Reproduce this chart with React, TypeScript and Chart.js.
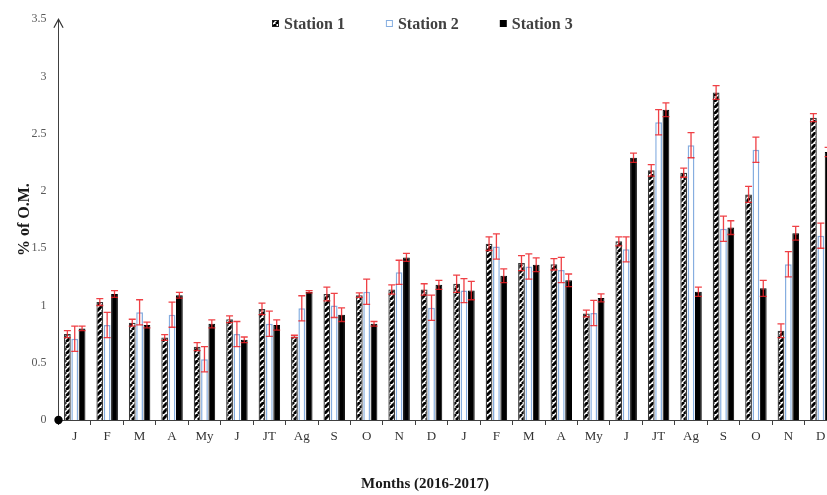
import React, { useEffect, useRef } from "react";
import { Chart, registerables } from "chart.js";

Chart.register(...registerables);

// ---------- data ----------
const months = ["J", "F", "M", "A", "My", "J", "JT", "Ag", "S", "O", "N", "D", "J", "F", "M", "A", "My", "J", "JT", "Ag", "S", "O", "N", "D"];
const seriesNames = ["Station 1", "Station 2", "Station 3"];

const station1 = [0.75, 1.03, 0.85, 0.72, 0.64, 0.88, 0.97, 0.73, 1.10, 1.09, 1.14, 1.14, 1.19, 1.54, 1.37, 1.36, 0.93, 1.56, 2.18, 2.16, 2.86, 1.97, 0.78, 2.64];
const station1Err = [0.03, 0.03, 0.03, 0.025, 0.035, 0.03, 0.05, 0.01, 0.06, 0.02, 0.04, 0.05, 0.075, 0.06, 0.065, 0.05, 0.03, 0.04, 0.05, 0.04, 0.06, 0.07, 0.06, 0.035];

const station2 = [0.71, 0.83, 0.94, 0.92, 0.53, 0.75, 0.84, 0.975, 1.00, 1.12, 1.29, 0.98, 1.13, 1.515, 1.34, 1.31, 0.935, 1.49, 2.60, 2.40, 1.67, 2.36, 1.36, 1.61];
const station2Err = [0.11, 0.11, 0.11, 0.11, 0.11, 0.11, 0.11, 0.11, 0.105, 0.11, 0.105, 0.11, 0.105, 0.11, 0.11, 0.11, 0.11, 0.11, 0.11, 0.11, 0.11, 0.11, 0.11, 0.11];

const station3 = [0.80, 1.10, 0.83, 1.09, 0.84, 0.70, 0.83, 1.12, 0.92, 0.84, 1.42, 1.18, 1.13, 1.26, 1.355, 1.22, 1.066, 2.29, 2.71, 1.12, 1.68, 1.15, 1.63, 2.34];
const station3Err = [0.02, 0.03, 0.025, 0.025, 0.035, 0.025, 0.045, 0.01, 0.06, 0.02, 0.035, 0.04, 0.08, 0.06, 0.06, 0.055, 0.035, 0.04, 0.06, 0.04, 0.06, 0.07, 0.06, 0.04];

const yTitle = "% of O.M.";
const xTitle = "Months (2016-2017)";
const yMin = 0;
const yMax = 3.5;
const yStep = 0.5;

const SERIF = "'Liberation Serif', 'Times New Roman', serif";

function makeHatch(): CanvasPattern | string {
  const c = document.createElement("canvas");
  const s = 6;
  c.width = s;
  c.height = s;
  const g = c.getContext("2d");
  if (!g) return "#888";
  g.fillStyle = "#ffffff";
  g.fillRect(0, 0, s, s);
  g.strokeStyle = "#000000";
  g.lineWidth = 2.9;
  for (let k = -1; k <= 1; k++) {
    g.beginPath();
    g.moveTo(k * s, s);
    g.lineTo(k * s + s, 0);
    g.stroke();
  }
  const p = g.createPattern(c, "repeat");
  return p || "#888";
}

export default function App() {
  const canvasRef = useRef<HTMLCanvasElement | null>(null);

  useEffect(() => {
    const canvas = canvasRef.current;
    if (!canvas) return;
    const hatch = makeHatch();
    const errors = [station1Err, station2Err, station3Err];
    const values = [station1, station2, station3];

    const decorations = {
      id: "decorations",
      afterDatasetsDraw(chart: any) {
        const ctx = chart.ctx;
        const yScale = chart.scales.y;
        ctx.save();
        ctx.strokeStyle = "rgba(236, 30, 36, 0.85)";
        ctx.lineWidth = 1.3;
        const cap = 3.5;
        for (let d = 0; d < values.length; d++) {
          const meta = chart.getDatasetMeta(d);
          meta.data.forEach((bar: any, i: number) => {
            const v = values[d][i];
            const e = errors[d][i];
            const yT = yScale.getPixelForValue(v + e);
            const yB = yScale.getPixelForValue(v - e);
            const x = bar.x;
            ctx.beginPath();
            ctx.moveTo(x, yT);
            ctx.lineTo(x, yB);
            ctx.moveTo(x - cap, yT);
            ctx.lineTo(x + cap, yT);
            ctx.moveTo(x - cap, yB);
            ctx.lineTo(x + cap, yB);
            ctx.stroke();
          });
        }
        ctx.restore();
      },
      afterDraw(chart: any) {
        const ctx = chart.ctx;
        const area = chart.chartArea;
        const yScale = chart.scales.y;
        const x0 = area.left;
        const yTop = yScale.getPixelForValue(yMax);
        const yZero = yScale.getPixelForValue(yMin);
        ctx.save();
        // arrow head on y axis
        ctx.strokeStyle = "#333333";
        ctx.lineWidth = 1.2;
        ctx.beginPath();
        ctx.moveTo(x0 - 4.6, yTop + 8.5);
        ctx.lineTo(x0, yTop);
        ctx.lineTo(x0 + 4.6, yTop + 8.5);
        ctx.stroke();
        // origin dot
        ctx.fillStyle = "#000000";
        ctx.beginPath();
        ctx.arc(x0, yZero, 4.2, 0, Math.PI * 2);
        ctx.fill();

        // legend
        ctx.font = `bold 16px ${SERIF}`;
        ctx.textBaseline = "alphabetic";
        ctx.textAlign = "left";
        let lx = 272;
        const boxY = 20;
        const box = 7;
        chart.data.datasets.forEach((ds: any) => {
          ctx.fillStyle = ds.legendBorder;
          ctx.fillRect(lx, boxY, box, box);
          ctx.fillStyle = ds.backgroundColor;
          ctx.fillRect(lx + 1, boxY + 1, box - 2, box - 2);
          ctx.fillStyle = "#404040";
          ctx.fillText(ds.label, lx + box + 5, 29);
          const w = ctx.measureText(ds.label).width;
          lx += box + 5 + w + 41;
        });

        // x title
        ctx.font = `bold 15px ${SERIF}`;
        ctx.textAlign = "center";
        ctx.fillStyle = "#1a1a1a";
        ctx.fillText(xTitle, 425, 488);
        ctx.restore();
      },
    };

    const chart = new Chart(canvas, {
      type: "bar",
      data: {
        labels: months,
        datasets: [
          {
            label: seriesNames[0],
            data: station1,
            backgroundColor: hatch as any,
            borderColor: "#3a3a3a",
            borderWidth: 1.3,
            legendBorder: "#222222",
          } as any,
          {
            label: seriesNames[1],
            data: station2,
            backgroundColor: "#ffffff",
            borderColor: "#86aee0",
            borderWidth: 1.5,
            legendBorder: "#86aee0",
          } as any,
          {
            label: seriesNames[2],
            data: station3,
            backgroundColor: "#000000",
            borderColor: "#000000",
            borderWidth: 1,
            legendBorder: "#000000",
          } as any,
        ],
      },
      options: {
        responsive: false,
        maintainAspectRatio: false,
        devicePixelRatio: 1,
        animation: false,
        layout: { padding: { top: 12, left: 0, right: 0, bottom: 0 } },
        datasets: {
          bar: { categoryPercentage: 0.68, barPercentage: 0.92 },
        },
        plugins: {
          legend: { display: false },
          tooltip: { enabled: false },
          title: { display: false },
        },
        scales: {
          x: {
            type: "category",
            offset: true,
            grid: {
              display: true,
              drawOnChartArea: false,
              drawTicks: true,
              tickLength: 5,
              color: "#404040",
              offset: true,
            },
            border: { display: true, color: "#404040", width: 1 },
            ticks: {
              font: { family: SERIF, size: 13 },
              color: "#333333",
              padding: 4,
              maxRotation: 0,
              autoSkip: false,
            },
            afterFit(scale: any) {
              scale.height = 75;
            },
          },
          y: {
            type: "linear",
            min: yMin,
            max: yMax,
            grid: { display: false, drawTicks: false },
            border: { display: true, color: "#404040", width: 1 },
            ticks: {
              stepSize: yStep,
              font: { family: SERIF, size: 12 },
              color: "#595959",
              padding: 12,
              callback: (v: any) => String(Number(v)),
            },
            title: {
              display: true,
              text: yTitle,
              font: { family: SERIF, size: 16, weight: "bold" },
              color: "#1a1a1a",
              padding: { top: 15, bottom: 0 },
            },
            afterFit(scale: any) {
              scale.width = 58.5;
            },
          },
        },
      } as any,
      plugins: [decorations],
    });

    return () => {
      chart.destroy();
    };
  }, []);

  return (
    <div
      style={{
        position: "fixed",
        left: 0,
        top: 0,
        width: 827,
        height: 495,
        overflow: "hidden",
        background: "#ffffff",
      }}
    >
      <canvas ref={canvasRef} width={837} height={495} style={{ display: "block" }} />
    </div>
  );
}
